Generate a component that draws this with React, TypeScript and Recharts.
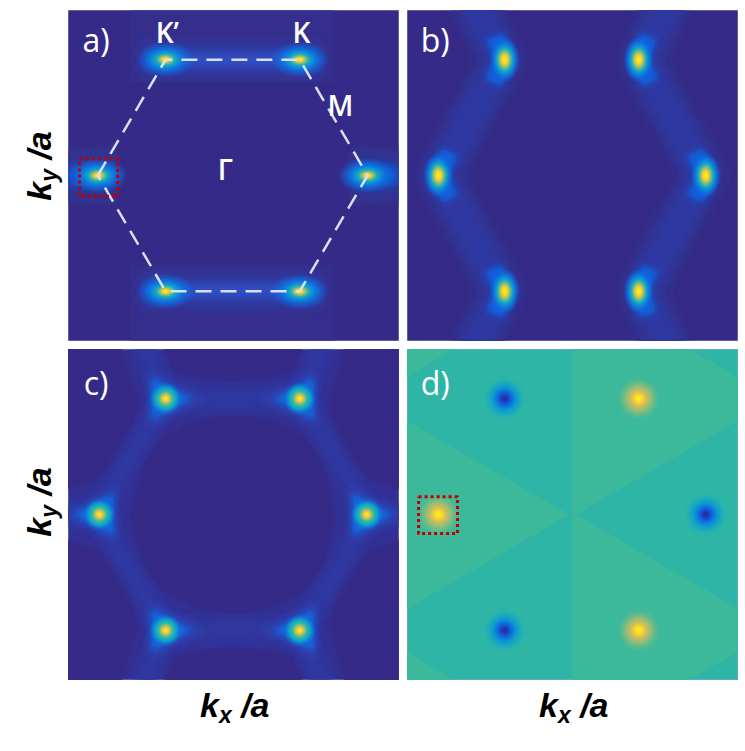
import { ReferenceArea, Scatter, ScatterChart, XAxis, YAxis } from "recharts";

type Pt = { kx: number; ky: number; text?: string };

const BG = "#352a87";
const WHITE_LINE = "#dcdff0";
const DOT_RED = "#c00000";
const TEAL = "#2fb5a6";
const GREEN = "#3cb89b";

const spotsA: Pt[] = [
  { kx: -0.82, ky: 0 },
  { kx: -0.41, ky: 0.7 },
  { kx: 0.4, ky: 0.7 },
  { kx: 0.81, ky: 0 },
  { kx: 0.4, ky: -0.7 },
  { kx: -0.41, ky: -0.7 },
];
const spotsB: Pt[] = [
  { kx: -0.81, ky: 0 },
  { kx: -0.41, ky: 0.7 },
  { kx: 0.4, ky: 0.7 },
  { kx: 0.805, ky: 0 },
  { kx: 0.4, ky: -0.7 },
  { kx: -0.41, ky: -0.7 },
];
const spotsCApexRight: Pt[] = [
  { kx: -0.41, ky: 0.7 },
  { kx: -0.41, ky: -0.7 },
  { kx: 0.805, ky: 0 },
];
const spotsCApexLeft: Pt[] = [
  { kx: 0.4, ky: 0.7 },
  { kx: 0.4, ky: -0.7 },
  { kx: -0.81, ky: 0 },
];
const spotsDHot: Pt[] = [
  { kx: -0.81, ky: 0 },
  { kx: 0.4, ky: 0.7 },
  { kx: 0.4, ky: -0.7 },
];
const spotsDCold: Pt[] = [
  { kx: -0.41, ky: 0.7 },
  { kx: -0.41, ky: -0.7 },
  { kx: 0.805, ky: 0 },
];

const hexagon: Pt[] = [
  { kx: -0.82, ky: 0 },
  { kx: -0.41, ky: 0.7 },
  { kx: 0.4, ky: 0.7 },
  { kx: 0.81, ky: 0 },
  { kx: 0.4, ky: -0.7 },
  { kx: -0.41, ky: -0.7 },
  { kx: -0.82, ky: 0 },
];

const markerA: Pt[] = [
  { kx: -0.93, ky: 0.1 },
  { kx: -0.7, ky: 0.1 },
  { kx: -0.7, ky: -0.125 },
  { kx: -0.93, ky: -0.125 },
  { kx: -0.93, ky: 0.1 },
];
const markerD: Pt[] = [
  { kx: -0.93, ky: 0.107 },
  { kx: -0.695, ky: 0.107 },
  { kx: -0.695, ky: -0.115 },
  { kx: -0.93, ky: -0.115 },
  { kx: -0.93, ky: 0.107 },
];

const labelsA: Pt[] = [
  { kx: -0.4, ky: 0.87, text: "K’" },
  { kx: 0.41, ky: 0.87, text: "K" },
  { kx: 0.646, ky: 0.423, text: "M" },
  { kx: -0.05, ky: 0.04, text: "Γ" },
];

// panel a: glow around the horizontal K-K' edges and the side valleys
const aFaintTop: Pt[] = [
  { kx: -0.62, ky: 1 },
  { kx: 0.61, ky: 1 },
  { kx: 0.61, ky: 0.56 },
  { kx: -0.62, ky: 0.56 },
];
const aFaintBottom: Pt[] = [
  { kx: -0.62, ky: -1 },
  { kx: 0.61, ky: -1 },
  { kx: 0.61, ky: -0.54 },
  { kx: -0.62, ky: -0.54 },
];
const aFaintLeft: Pt[] = [
  { kx: -1, ky: 0.16 },
  { kx: -0.72, ky: 0.18 },
  { kx: -0.66, ky: 0 },
  { kx: -0.72, ky: -0.18 },
  { kx: -1, ky: -0.16 },
];
const aFaintRight: Pt[] = [
  { kx: 1, ky: 0.16 },
  { kx: 0.72, ky: 0.18 },
  { kx: 0.65, ky: 0 },
  { kx: 0.72, ky: -0.18 },
  { kx: 1, ky: -0.16 },
];
const aBandTop: Pt[] = [
  { kx: -0.56, ky: 0.8 },
  { kx: 0.53, ky: 0.8 },
  { kx: 0.53, ky: 0.6 },
  { kx: -0.56, ky: 0.6 },
];
const aBandBottom: Pt[] = [
  { kx: -0.56, ky: -0.6 },
  { kx: 0.53, ky: -0.6 },
  { kx: 0.53, ky: -0.8 },
  { kx: -0.56, ky: -0.8 },
];
const aCoreTop: Pt[] = [
  { kx: -0.47, ky: 0.7 },
  { kx: 0.46, ky: 0.7 },
];
const aCoreBottom: Pt[] = [
  { kx: -0.47, ky: -0.7 },
  { kx: 0.46, ky: -0.7 },
];
const aCoreLeft: Pt[] = [
  { kx: -1, ky: 0 },
  { kx: -0.74, ky: 0 },
];
const aCoreRight: Pt[] = [
  { kx: 0.74, ky: 0 },
  { kx: 1, ky: 0 },
];

// panel b: the two zigzag ridges and the crescents on their bends
const bRidgeLeft: Pt[] = [
  { kx: -0.6, ky: 1.05 },
  { kx: -0.43, ky: 0.7 },
  { kx: -0.8, ky: 0 },
  { kx: -0.43, ky: -0.7 },
  { kx: -0.6, ky: -1.05 },
];
const bRidgeRight: Pt[] = [
  { kx: 0.58, ky: 1.05 },
  { kx: 0.42, ky: 0.7 },
  { kx: 0.79, ky: 0 },
  { kx: 0.42, ky: -0.7 },
  { kx: 0.58, ky: -1.05 },
];
const bCrescents: Pt[][] = [
  [
    { kx: -0.47, ky: 0.84 },
    { kx: -0.41, ky: 0.7 },
    { kx: -0.48, ky: 0.56 },
  ],
  [
    { kx: 0.46, ky: 0.84 },
    { kx: 0.4, ky: 0.7 },
    { kx: 0.47, ky: 0.56 },
  ],
  [
    { kx: -0.74, ky: 0.14 },
    { kx: -0.81, ky: 0 },
    { kx: -0.74, ky: -0.14 },
  ],
  [
    { kx: 0.74, ky: 0.14 },
    { kx: 0.81, ky: 0 },
    { kx: 0.74, ky: -0.14 },
  ],
  [
    { kx: -0.48, ky: -0.56 },
    { kx: -0.41, ky: -0.7 },
    { kx: -0.47, ky: -0.84 },
  ],
  [
    { kx: 0.47, ky: -0.56 },
    { kx: 0.4, ky: -0.7 },
    { kx: 0.46, ky: -0.84 },
  ],
];

// panel c: dark pockets cut out of the faint honeycomb level
const cHole: Pt[] = [
  { kx: 0, ky: 0.594 },
  { kx: 0.24, ky: 0.574 },
  { kx: 0.42, ky: 0.487 },
  { kx: 0.54, ky: 0.336 },
  { kx: 0.62, ky: 0 },
  { kx: 0.55, ky: -0.31 },
  { kx: 0.42, ky: -0.47 },
  { kx: 0.24, ky: -0.57 },
  { kx: 0, ky: -0.6 },
  { kx: -0.24, ky: -0.57 },
  { kx: -0.42, ky: -0.47 },
  { kx: -0.55, ky: -0.31 },
  { kx: -0.63, ky: 0 },
  { kx: -0.54, ky: 0.336 },
  { kx: -0.42, ky: 0.487 },
  { kx: -0.24, ky: 0.574 },
];
const cPockets: Pt[][] = [
  [
    { kx: -0.445, ky: 1.05 },
    { kx: 0.44, ky: 1.05 },
    { kx: 0.36, ky: 0.86 },
    { kx: 0.2, ky: 0.82 },
    { kx: 0, ky: 0.8 },
    { kx: -0.2, ky: 0.82 },
    { kx: -0.36, ky: 0.86 },
  ],
  [
    { kx: -0.445, ky: -1.05 },
    { kx: 0.44, ky: -1.05 },
    { kx: 0.36, ky: -0.86 },
    { kx: 0.2, ky: -0.82 },
    { kx: 0, ky: -0.8 },
    { kx: -0.2, ky: -0.82 },
    { kx: -0.36, ky: -0.86 },
  ],
  [
    { kx: -1.05, ky: 1.05 },
    { kx: -0.69, ky: 1.05 },
    { kx: -0.57, ky: 0.68 },
    { kx: -0.65, ky: 0.38 },
    { kx: -0.81, ky: 0.215 },
    { kx: -1.05, ky: 0.135 },
  ],
  [
    { kx: 1.05, ky: 1.05 },
    { kx: 0.68, ky: 1.05 },
    { kx: 0.57, ky: 0.68 },
    { kx: 0.65, ky: 0.38 },
    { kx: 0.81, ky: 0.215 },
    { kx: 1.05, ky: 0.135 },
  ],
  [
    { kx: -1.05, ky: -1.05 },
    { kx: -0.69, ky: -1.05 },
    { kx: -0.57, ky: -0.68 },
    { kx: -0.65, ky: -0.38 },
    { kx: -0.81, ky: -0.215 },
    { kx: -1.05, ky: -0.135 },
  ],
  [
    { kx: 1.05, ky: -1.05 },
    { kx: 0.68, ky: -1.05 },
    { kx: 0.57, ky: -0.68 },
    { kx: 0.65, ky: -0.38 },
    { kx: 0.81, ky: -0.215 },
    { kx: 1.05, ky: -0.135 },
  ],
];
const cRidges: Pt[][] = [
  [
    { kx: -0.82, ky: 0 },
    { kx: -0.62, ky: 0.36 },
    { kx: -0.41, ky: 0.7 },
    { kx: 0, ky: 0.7 },
    { kx: 0.4, ky: 0.7 },
    { kx: 0.62, ky: 0.36 },
    { kx: 0.81, ky: 0 },
    { kx: 0.62, ky: -0.36 },
    { kx: 0.4, ky: -0.7 },
    { kx: 0, ky: -0.7 },
    { kx: -0.41, ky: -0.7 },
    { kx: -0.62, ky: -0.36 },
    { kx: -0.82, ky: 0 },
  ],
  [
    { kx: -0.41, ky: 0.7 },
    { kx: -0.55, ky: 1.05 },
  ],
  [
    { kx: 0.4, ky: 0.7 },
    { kx: 0.55, ky: 1.05 },
  ],
  [
    { kx: -0.41, ky: -0.7 },
    { kx: -0.55, ky: -1.05 },
  ],
  [
    { kx: 0.4, ky: -0.7 },
    { kx: 0.55, ky: -1.05 },
  ],
  [
    { kx: -0.82, ky: 0 },
    { kx: -1.05, ky: 0 },
  ],
  [
    { kx: 0.81, ky: 0 },
    { kx: 1.05, ky: 0 },
  ],
];

// panel d: the lighter green sectors over the teal background
const dSectors: Pt[][] = [
  [
    { kx: -1, ky: 0.565 },
    { kx: -0.02, ky: 0 },
    { kx: -1, ky: -0.57 },
  ],
  [
    { kx: 0, ky: 1 },
    { kx: 0.705, ky: 1 },
    { kx: 1, ky: 0.83 },
    { kx: 1, ky: 0.565 },
    { kx: 0.02, ky: 0 },
    { kx: 0, ky: 0 },
  ],
  [
    { kx: 0, ky: 0 },
    { kx: 0.02, ky: 0 },
    { kx: 1, ky: -0.57 },
    { kx: 1, ky: -0.83 },
    { kx: 0.705, ky: -1 },
    { kx: 0, ky: -1 },
  ],
  [
    { kx: -1, ky: 1 },
    { kx: -0.717, ky: 1 },
    { kx: -1, ky: 0.83 },
  ],
  [
    { kx: -1, ky: -0.83 },
    { kx: -0.717, ky: -1 },
    { kx: -1, ky: -1 },
  ],
];

const polygonLine = (fill: string, filter?: string) => (p: any) => (
  <polygon
    points={p.points.map((q: any) => `${q.x},${q.y}`).join(" ")}
    fill={fill}
    filter={filter}
  />
);

const strokeLine =
  (color: string, width: number, filter?: string, dash?: string) => (p: any) => (
    <polyline
      points={p.points.map((q: any) => `${q.x},${q.y}`).join(" ")}
      fill="none"
      stroke={color}
      strokeWidth={width}
      strokeLinejoin="round"
      strokeDasharray={dash}
      filter={filter}
    />
  );

const noMark = () => <g />;

const ellipseSpot = (rx: number, ry: number, grad: string) => (p: any) => (
  <ellipse cx={p.cx} cy={p.cy} rx={rx} ry={ry} fill={`url(#${grad})`} />
);

const triangleSpot = (dir: number) => (p: any) => {
  const { cx, cy } = p;
  const tri = (back: number, half: number, tip: number) =>
    `M${cx - dir * back},${cy - half} L${cx - dir * back},${cy + half} L${cx + dir * tip},${cy} Z`;
  return (
    <g>
      <path d={tri(16, 27, 38)} fill="#2d43b4" filter="url(#blur5)" />
      <path d={tri(14, 21, 26)} fill="#0f6be0" filter="url(#blur3)" />
      <circle cx={cx} cy={cy} r={16} fill="url(#spotRound)" />
    </g>
  );
};

const textMark = (size: number, weight: number) => (p: any) => (
  <text
    x={p.cx}
    y={p.cy}
    fill="#ffffff"
    fontFamily="'Open Sans', sans-serif"
    fontSize={size}
    fontWeight={weight}
    textAnchor="middle"
    dominantBaseline="central"
  >
    {p.payload?.text ?? p.text}
  </text>
);

function Defs() {
  return (
    <defs>
      <filter id="blur2" filterUnits="userSpaceOnUse" x="-50" y="-50" width="440" height="440">
        <feGaussianBlur stdDeviation="1.5" />
      </filter>
      <filter id="blur3" filterUnits="userSpaceOnUse" x="-50" y="-50" width="440" height="440">
        <feGaussianBlur stdDeviation="3" />
      </filter>
      <filter id="blur5" filterUnits="userSpaceOnUse" x="-50" y="-50" width="440" height="440">
        <feGaussianBlur stdDeviation="5" />
      </filter>
      <radialGradient id="spotRound">
        <stop offset="0" stopColor="#f9fb0e" />
        <stop offset="0.14" stopColor="#fecf2e" />
        <stop offset="0.3" stopColor="#a5bd6c" />
        <stop offset="0.46" stopColor="#30b7a8" />
        <stop offset="0.66" stopColor="#0ca5c8" />
        <stop offset="1" stopColor="#0f77e0" stopOpacity="0" />
      </radialGradient>
      <radialGradient id="spotWide">
        <stop offset="0" stopColor="#f9fb0e" />
        <stop offset="0.1" stopColor="#fecf2e" />
        <stop offset="0.2" stopColor="#8dbd74" />
        <stop offset="0.32" stopColor="#12abc4" />
        <stop offset="0.55" stopColor="#0f74e0" />
        <stop offset="1" stopColor="#0f5fdd" stopOpacity="0" />
      </radialGradient>
      <radialGradient id="spotTall">
        <stop offset="0" stopColor="#f9fb0e" />
        <stop offset="0.18" stopColor="#fecf2e" />
        <stop offset="0.34" stopColor="#8dbd74" />
        <stop offset="0.5" stopColor="#12abc4" />
        <stop offset="0.74" stopColor="#0f74e0" stopOpacity="0.85" />
        <stop offset="1" stopColor="#0f5fdd" stopOpacity="0" />
      </radialGradient>
      <radialGradient id="hot">
        <stop offset="0" stopColor="#f9fb0e" />
        <stop offset="0.14" stopColor="#fedb28" />
        <stop offset="0.32" stopColor="#d6bc58" />
        <stop offset="0.55" stopColor="#8dbd7a" />
        <stop offset="0.8" stopColor="#5aba8c" stopOpacity="0.6" />
        <stop offset="1" stopColor={GREEN} stopOpacity="0" />
      </radialGradient>
      <radialGradient id="cold">
        <stop offset="0" stopColor="#2f2a90" />
        <stop offset="0.12" stopColor="#1f3ab8" />
        <stop offset="0.28" stopColor="#0f66df" />
        <stop offset="0.48" stopColor="#0d94d4" />
        <stop offset="0.75" stopColor="#19adbb" stopOpacity="0.7" />
        <stop offset="1" stopColor={TEAL} stopOpacity="0" />
      </radialGradient>
    </defs>
  );
}

function Panel({
  left,
  top,
  background,
  children,
}: {
  left: number;
  top: number;
  background: string;
  children: React.ReactNode;
}) {
  return (
    <div style={{ position: "absolute", left, top, width: 331, height: 331 }}>
      <ScatterChart width={331} height={331} margin={{ top: 0, right: 0, bottom: 0, left: 0 }}>
        <Defs />
        <XAxis type="number" dataKey="kx" domain={[-1, 1]} hide allowDataOverflow />
        <YAxis type="number" dataKey="ky" domain={[-1, 1]} hide allowDataOverflow />
        <ReferenceArea x1={-1} x2={1} y1={-1} y2={1} fill={background} fillOpacity={1} stroke="#a5a6d2" strokeOpacity={0.8} />
        {children}
      </ScatterChart>
    </div>
  );
}

function region(data: Pt[], line: any, key?: string) {
  return <Scatter key={key} data={data} line={line} shape={noMark} isAnimationActive={false} />;
}

function marks(data: Pt[], shape: any, key?: string) {
  return <Scatter key={key} data={data} shape={shape} isAnimationActive={false} />;
}

function AxisTitle({ sub, style }: { sub: string; style: React.CSSProperties }) {
  return (
    <div
      style={{
        position: "absolute",
        fontFamily: "'Liberation Sans', Arial, sans-serif",
        fontWeight: 700,
        fontStyle: "italic",
        fontSize: 34,
        lineHeight: "40px",
        whiteSpace: "pre",
        color: "#000",
        ...style,
      }}
    >
      k
      <span style={{ fontSize: 23, position: "relative", top: 6 }}>{sub}</span>
      {" /a"}
    </div>
  );
}

const PANEL_TAG = [{ kx: -0.83, ky: 0.82 }];

export default function App() {
  return (
    <div style={{ position: "absolute", left: 0, top: 0, width: 745, height: 751, background: "#fff", overflow: "hidden" }}>
      <Panel left={68} top={10} background={BG}>
        {region(aFaintTop, polygonLine("#342d8d", "url(#blur2)"))}
        {region(aFaintBottom, polygonLine("#342d8d", "url(#blur2)"))}
        {region(aFaintLeft, polygonLine("#33318f", "url(#blur2)"))}
        {region(aFaintRight, polygonLine("#33318f", "url(#blur2)"))}
        {region(aBandTop, polygonLine("#2f3aa2", "url(#blur5)"))}
        {region(aBandBottom, polygonLine("#2f3aa2", "url(#blur5)"))}
        {region(aCoreTop, strokeLine("#2d4dc2", 13, "url(#blur3)"))}
        {region(aCoreBottom, strokeLine("#2d4dc2", 13, "url(#blur3)"))}
        {region(aCoreLeft, strokeLine("#1057d8", 20, "url(#blur5)"))}
        {region(aCoreRight, strokeLine("#1057d8", 20, "url(#blur5)"))}
        {marks(spotsA, ellipseSpot(30, 18, "spotWide"))}
        {region(hexagon, strokeLine(WHITE_LINE, 2.5, undefined, "16 9"))}
        {region(markerA, strokeLine(DOT_RED, 3, undefined, "3 3"))}
        {marks(labelsA, textMark(28, 600))}
        {marks([{ ...PANEL_TAG[0], text: "a)" }], textMark(32, 400))}
      </Panel>

      <Panel left={407} top={10} background={BG}>
        {region(bRidgeLeft, strokeLine("#33308f", 48, "url(#blur3)"))}
        {region(bRidgeRight, strokeLine("#33308f", 48, "url(#blur3)"))}
        {region(bRidgeLeft, strokeLine("#2f38a2", 28, "url(#blur5)"))}
        {region(bRidgeRight, strokeLine("#2f38a2", 28, "url(#blur5)"))}
        {bCrescents.map((c, i) => region(c, strokeLine("#0f62df", 18, "url(#blur3)"), `c${i}`))}
        {marks(spotsB, ellipseSpot(15, 23, "spotTall"))}
        {marks([{ ...PANEL_TAG[0], text: "b)" }], textMark(32, 400))}
      </Panel>

      <Panel left={68} top={349} background="#333095">
        {region(cHole, polygonLine(BG, "url(#blur2)"))}
        {cPockets.map((c, i) => region(c, polygonLine(BG, "url(#blur2)"), `p${i}`))}
        {cRidges.map((c, i) => region(c, strokeLine("#2f38a0", 20, "url(#blur5)"), `r${i}`))}
        {marks(spotsCApexRight, triangleSpot(1))}
        {marks(spotsCApexLeft, triangleSpot(-1))}
        {marks([{ kx: -0.83, ky: 0.8, text: "c)" }], textMark(32, 400))}
      </Panel>

      <Panel left={407} top={349} background={TEAL}>
        {dSectors.map((c, i) => region(c, polygonLine(GREEN), `s${i}`))}
        {marks(spotsDHot, ellipseSpot(23, 23, "hot"))}
        {marks(spotsDCold, ellipseSpot(23, 23, "cold"))}
        {region(markerD, strokeLine(DOT_RED, 3, undefined, "3 3"))}
        {marks([{ kx: -0.83, ky: 0.8, text: "d)" }], textMark(32, 400))}
      </Panel>

      <AxisTitle sub="y" style={{ left: 6, top: 144, transform: "rotate(-90deg)" }} />
      <AxisTitle sub="y" style={{ left: 6, top: 480, transform: "rotate(-90deg)" }} />
      <AxisTitle sub="x" style={{ left: 200, top: 685 }} />
      <AxisTitle sub="x" style={{ left: 539, top: 685 }} />
    </div>
  );
}
